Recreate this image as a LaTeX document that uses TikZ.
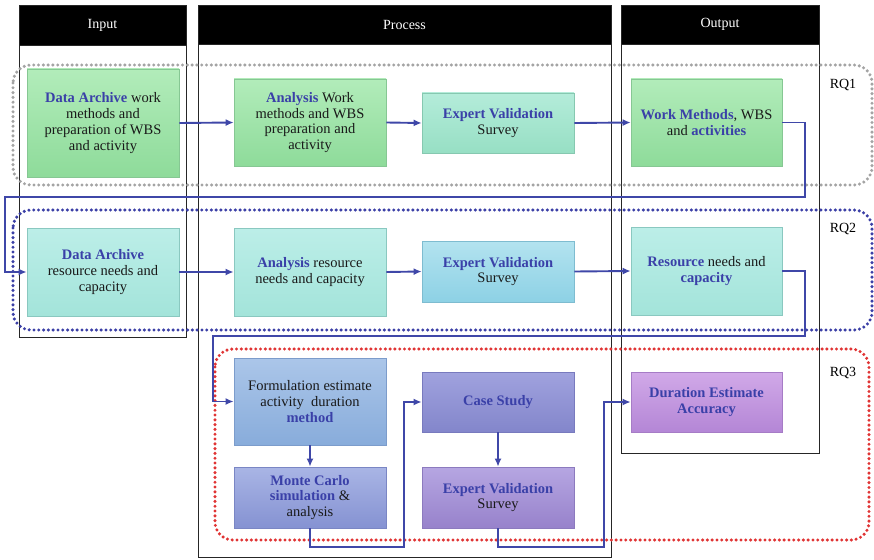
\documentclass[tikz,border=0pt]{standalone}
\usepackage{fontspec}
\setmainfont{Liberation Serif}
\usetikzlibrary{arrows.meta}
\definecolor{bluetxt}{HTML}{3A40A8}
\definecolor{arrblue}{HTML}{3F47A8}
\definecolor{rqgray}{HTML}{A4A4A4}
\definecolor{rqblue}{HTML}{3B3FA6}
\definecolor{rqred}{HTML}{E03434}
\definecolor{gA}{HTML}{B2ECBA}\definecolor{gB}{HTML}{8EDB9A}\definecolor{gD}{HTML}{86C793}
\definecolor{tA}{HTML}{B4ECDA}\definecolor{tB}{HTML}{97DFC4}\definecolor{tD}{HTML}{86C8B0}
\definecolor{cA}{HTML}{BCEEE8}\definecolor{cB}{HTML}{A3E4DA}\definecolor{cD}{HTML}{8AC8C0}
\definecolor{sA}{HTML}{B3E3EF}\definecolor{sB}{HTML}{8DD1E5}\definecolor{sD}{HTML}{7EBCD0}
\definecolor{fA}{HTML}{ABC6E9}\definecolor{fB}{HTML}{88ACDB}\definecolor{fD}{HTML}{7C9CCB}
\definecolor{mA}{HTML}{A9B5E5}\definecolor{mB}{HTML}{8592D2}\definecolor{mD}{HTML}{7A86C4}
\definecolor{kA}{HTML}{A0A2DE}\definecolor{kB}{HTML}{8386CB}\definecolor{kD}{HTML}{787ABE}
\definecolor{vA}{HTML}{B6A6E2}\definecolor{vB}{HTML}{9782CB}\definecolor{vD}{HTML}{8C7ABE}
\definecolor{pA}{HTML}{D1A9E8}\definecolor{pB}{HTML}{B486D6}\definecolor{pD}{HTML}{A67CC6}
\newcommand{\Bl}[1]{\textbf{\textcolor{bluetxt}{#1}}}
\begin{document}
\begin{tikzpicture}[x=1pt,y=-1pt,
  colbox/.style={draw=black!85, line width=0.9pt},
  hdr/.style={fill=black, draw=black!85, line width=0.9pt, text=white, inner sep=0pt, font=\fontsize{14}{16}\selectfont},
  box/.style n args={3}{draw=#3, line width=0.7pt, top color=#1, bottom color=#2, align=center, inner sep=0pt, text=black!90, font=\fontsize{14.5}{15.8}\selectfont},
  arr/.style={draw=arrblue, line width=1.9pt, -{Latex[length=8pt,width=7pt]}},
  rqline/.style={draw=#1, line width=3.4pt, dash pattern=on 0pt off 4.8pt, line cap=round, rounded corners=18pt},
  lbl/.style={font=\fontsize{14}{16}\selectfont, inner sep=0pt}
]
\useasboundingbox (0,0) rectangle (874,559);
% columns
\draw[colbox] (19,5) rectangle (186,337);
\draw[colbox] (198,5) rectangle (611,557);
\draw[colbox] (621,5) rectangle (819,453);
\node[hdr, minimum width=167pt, minimum height=40pt] (hin) at (102.5,25) {Input};
\node[hdr, minimum width=413pt, minimum height=39pt] (hpr) at (404.5,24.5) {Process};
\node[hdr, minimum width=198pt, minimum height=39pt] (hout) at (720,24.5) {Output};
% RQ regions
\draw[rqline=rqgray] (13,65) rectangle (872,185);
\draw[rqline=rqblue] (13,210) rectangle (872,330);
\draw[rqline=rqred] (215,349) rectangle (869,540);
\node[lbl] (rq1) at (843,85) {RQ1};
\node[lbl] (rq2) at (843,229) {RQ2};
\node[lbl] (rq3) at (843,373) {RQ3};
% row 1
\node[box={gA}{gB}{gD}, minimum width=152pt, minimum height=108pt] (da1) at (103,123)
  {\Bl{Data Archive} work\\methods and\\preparation of WBS\\and activity};
\node[box={gA}{gB}{gD}, minimum width=152pt, minimum height=87pt] (an1) at (310,122.5)
  {\Bl{Analysis} Work\\methods and WBS\\preparation and\\activity};
\node[box={tA}{tB}{tD}, minimum width=152pt, minimum height=60pt] (ev1) at (498,123)
  {\Bl{Expert Validation}\\Survey};
\node[box={gA}{gB}{gD}, minimum width=151pt, minimum height=87pt] (wm) at (706.5,122.5)
  {\Bl{Work Methods}, WBS\\and \Bl{activities}};
% row 2
\node[box={cA}{cB}{cD}, minimum width=152pt, minimum height=88pt] (da2) at (103,272)
  {\Bl{Data Archive}\\resource needs and\\capacity};
\node[box={cA}{cB}{cD}, minimum width=152pt, minimum height=88pt] (an2) at (310,272)
  {\Bl{Analysis} resource\\needs and capacity};
\node[box={sA}{sB}{sD}, minimum width=152pt, minimum height=61pt] (ev2) at (498,271.5)
  {\Bl{Expert Validation}\\Survey};
\node[box={cA}{cB}{cD}, minimum width=151pt, minimum height=88pt] (res) at (706.5,271)
  {\Bl{Resource} needs and\\\Bl{capacity}};
% row 3
\node[box={fA}{fB}{fD}, minimum width=152pt, minimum height=87pt] (form) at (310,401.5)
  {Formulation estimate\\activity~ duration\\\Bl{method}};
\node[box={mA}{mB}{mD}, minimum width=152pt, minimum height=61pt] (mc) at (310,497.5)
  {\Bl{Monte Carlo}\\\Bl{simulation} \&\\analysis};
\node[box={kA}{kB}{kD}, minimum width=152pt, minimum height=60pt] (cs) at (498,402)
  {\Bl{Case Study}};
\node[box={vA}{vB}{vD}, minimum width=152pt, minimum height=61pt] (ev3) at (498,497.5)
  {\Bl{Expert Validation}\\Survey};
\node[box={pA}{pB}{pD}, minimum width=151pt, minimum height=60pt] (dur) at (706.5,402)
  {\Bl{Duration Estimate}\\\Bl{Accuracy}};
% connector corners
\coordinate (k1) at (805,197);
\coordinate (k2) at (5,197);
\coordinate (k3) at (805,336);
\coordinate (k4) at (213,336);
\coordinate (k5) at (404,547);
\coordinate (k6) at (604,547);
% connectors
\draw[arr] (da1.east) -- (an1.west);
\draw[arr] (an1.east) -- (ev1.west);
\draw[arr] (ev1.east) -- (wm.west);
\draw[arr] (wm.east) -| (k1) -- (k2) |- (da2.west);
\draw[arr] (da2.east) -- (an2.west);
\draw[arr] (an2.east) -- (ev2.west);
\draw[arr] (ev2.east) -- (res.west);
\draw[arr] (res.east) -| (k3) -- (k4) |- (form.west);
\draw[arr] (form.south) -- (mc.north);
\draw[arr] (mc.south) |- (k5) |- (cs.west);
\draw[arr] (cs.south) -- (ev3.north);
\draw[arr] (ev3.south) |- (k6) |- (dur.west);
\end{tikzpicture}
\end{document}
